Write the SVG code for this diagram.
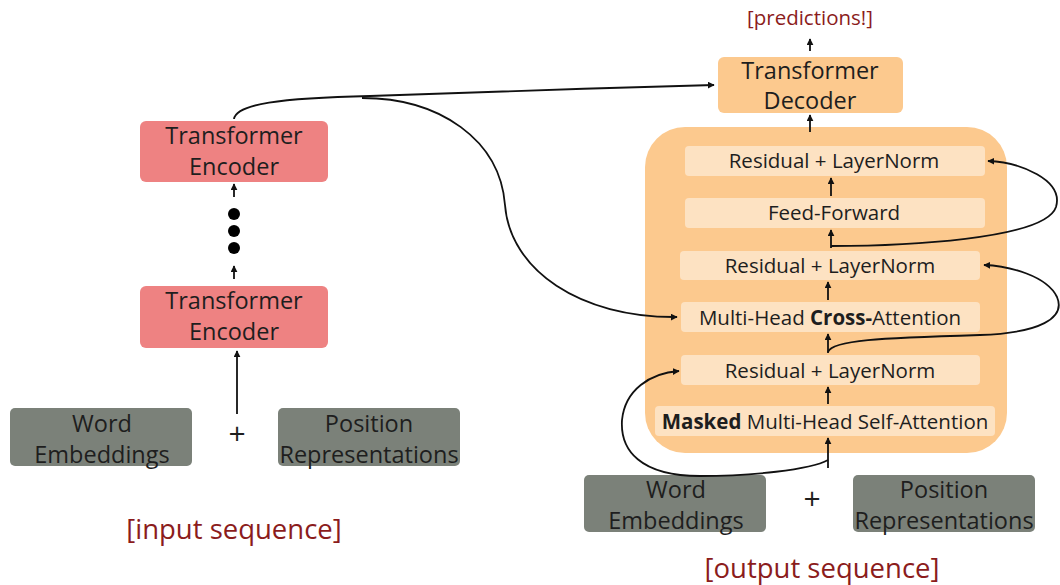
<svg xmlns="http://www.w3.org/2000/svg" width="1060" height="585" viewBox="0 0 1060 585">
<defs>
<marker id="ah" viewBox="0 0 10 10" refX="9" refY="5" markerWidth="7" markerHeight="7" orient="auto" markerUnits="userSpaceOnUse">
<path d="M0,0 L10,5 L0,10 Z" fill="#111"/>
</marker>
<style>
text{font-family:"Open Sans","DejaVu Sans",sans-serif;fill:#1e1e1e;text-anchor:middle}
.big{font-size:23.5px}
.mid{font-size:20.5px}
.plus{font-size:30px}
.red{fill:#8b1c1c}
.enc{fill:#ee8282}
.dec{fill:#fcc98e}
.inner{fill:#fde2c2}
.gray{fill:#7b8179}
.ar{fill:none;stroke:#111;stroke-width:1.8;marker-end:url(#ah)}
</style>
</defs>
<rect width="1060" height="585" fill="#fff"/>

<g id="encoder-top"><rect class="enc" x="140" y="121" width="188" height="61" rx="6"/><text class="big" x="234" y="144">Transformer</text><text class="big" x="234" y="175">Encoder</text></g>
<g id="dots"><circle cx="234" cy="214" r="6" fill="#000"/><circle cx="234" cy="231" r="6" fill="#000"/><circle cx="234" cy="248" r="6" fill="#000"/></g>
<g id="encoder-bottom"><rect class="enc" x="140" y="286" width="188" height="62" rx="6"/><text class="big" x="234" y="309">Transformer</text><text class="big" x="234" y="340">Encoder</text></g>
<g id="word-emb-in"><rect class="gray" x="10" y="408" width="182" height="58" rx="5"/><text class="big" x="102" y="432">Word</text><text class="big" x="102" y="463">Embeddings</text></g>
<g id="plus-in"><text class="plus" x="237" y="444">+</text></g>
<g id="pos-rep-in"><rect class="gray" x="278" y="408" width="182" height="58" rx="5"/><text class="big" x="369" y="432">Position</text><text class="big" x="369" y="463">Representations</text></g>
<g id="input-label"><text class="red" x="234" y="539" style="font-size:27.5px">[input sequence]</text></g>

<g id="predictions"><text class="red mid" x="810" y="25">[predictions!]</text></g>
<g id="decoder"><rect class="dec" x="718" y="57" width="185" height="56" rx="6"/><text class="big" x="810" y="79">Transformer</text><text class="big" x="810" y="109">Decoder</text></g>
<g id="decoder-block"><rect class="dec" x="645" y="127" width="362" height="326" rx="40"/></g>
<g id="rln-top"><rect class="inner" x="685" y="146" width="300" height="30" rx="4"/><text class="mid" x="834" y="168">Residual + LayerNorm</text></g>
<g id="ff"><rect class="inner" x="685" y="198" width="300" height="30" rx="4"/><text class="mid" x="834" y="220">Feed-Forward</text></g>
<g id="rln-mid"><rect class="inner" x="680" y="251" width="300" height="29" rx="4"/><text class="mid" x="830" y="273">Residual + LayerNorm</text></g>
<g id="cross"><rect class="inner" x="681" y="302" width="299" height="30" rx="4"/><text class="mid" x="830" y="325">Multi-Head <tspan font-weight="bold">Cross-</tspan>Attention</text></g>
<g id="rln-bot"><rect class="inner" x="681" y="355" width="299" height="30" rx="4"/><text class="mid" x="830" y="378">Residual + LayerNorm</text></g>
<g id="masked"><rect class="inner" x="655" y="406" width="340" height="30" rx="4"/><text class="mid" x="825" y="429"><tspan font-weight="bold">Masked</tspan> Multi-Head Self-Attention</text></g>
<g id="word-emb-out"><rect class="gray" x="584" y="475" width="182" height="57" rx="5"/><text class="big" x="676" y="498">Word</text><text class="big" x="676" y="529">Embeddings</text></g>
<g id="plus-out"><text class="plus" x="812" y="509">+</text></g>
<g id="pos-rep-out"><rect class="gray" x="853" y="475" width="182" height="57" rx="5"/><text class="big" x="944" y="498">Position</text><text class="big" x="944" y="529">Representations</text></g>
<g id="output-label"><text class="red" x="822" y="578" style="font-size:27.5px">[output sequence]</text></g>

<g id="connectors">
<path class="ar" d="M234,197 L234,184"/>
<path class="ar" d="M234,279 L234,266"/>
<path class="ar" d="M237,414 L237,351"/>
<path class="ar" d="M810,51 L810,39"/>
<path class="ar" d="M810,132 L810,115"/>
<path class="ar" d="M831,196 L831,178"/>
<path class="ar" d="M831,248 L831,230"/>
<path class="ar" d="M828,300 L828,282"/>
<path class="ar" d="M828,353 L828,334"/>
<path class="ar" d="M828,404 L828,387"/>
<path class="ar" d="M828,468 L828,438"/>
<path class="ar" d="M234,119 C236,104 280,98 370,96 C480,92 600,88 714,85"/>
<path class="ar" d="M362,98 C440,98 500,140 505,205 C510,270 580,318 677,317"/>
<path class="ar" d="M831,246 C900,246 1045,240 1056,207 C1064,180 1020,162 988,161"/>
<path class="ar" d="M828,352 C832,340 880,338 980,335 C1040,333 1066,318 1057,297 C1047,276 1010,266 984,265"/>
<path class="ar" d="M828,460 C810,470 750,476 700,476 C640,476 620,450 622,420 C625,390 650,373 679,371"/>
</g>
</svg>
